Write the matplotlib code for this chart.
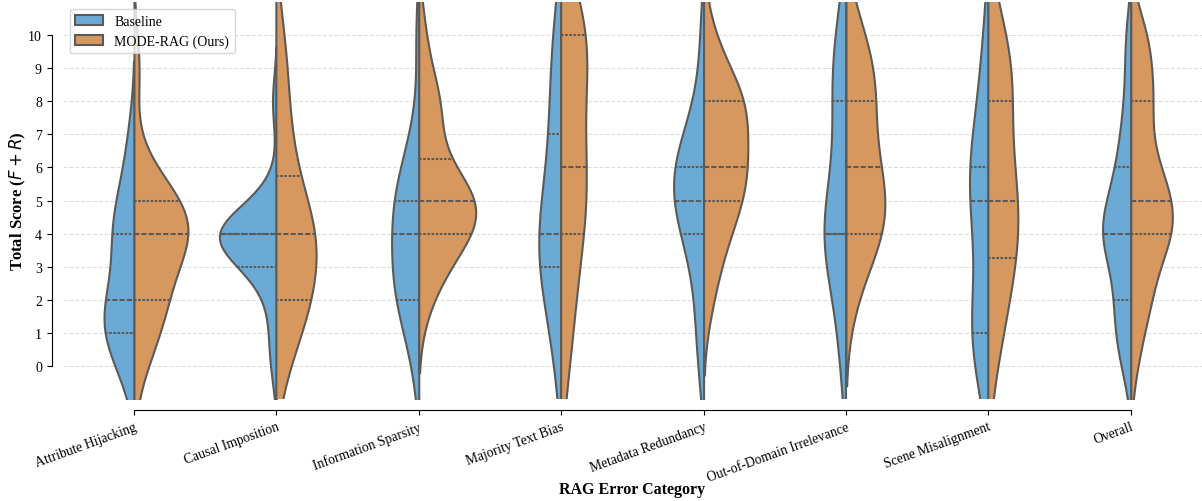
import numpy as np
import pandas as pd
import matplotlib
matplotlib.use("Agg")
import matplotlib.pyplot as plt
import seaborn as sns

plt.rcParams['font.family'] = ['Liberation Serif', 'DejaVu Serif']
plt.rcParams['mathtext.fontset'] = 'dejavusans'

# score values (F + R) and error categories
scores = np.arange(11)
categories = ["Attribute Hijacking", "Causal Imposition", "Information Sparsity",
              "Majority Text Bias", "Metadata Redundancy",
              "Out-of-Domain Irrelevance", "Scene Misalignment"]
models = ["Baseline", "MODE-RAG (Ours)"]

# number of samples with each total score 0..10, one row per category
baseline_counts = [
    [2, 5, 4, 1, 4, 2, 1, 1, 0, 0, 0],
    [1, 1, 1, 4, 12, 2, 0, 0, 1, 0, 0],
    [1, 1, 4, 3, 3, 4, 2, 1, 0, 0, 1],
    [1, 1, 2, 3, 4, 2, 1, 2, 1, 1, 2],
    [1, 1, 1, 1, 3, 4, 5, 2, 1, 0, 1],
    [1, 1, 1, 1, 7, 1, 1, 1, 2, 2, 2],
    [2, 5, 1, 1, 1, 4, 3, 2, 1, 1, 1],
]
ours_counts = [
    [1, 2, 3, 2, 6, 4, 1, 0, 0, 1, 0],
    [1, 2, 4, 2, 6, 1, 2, 1, 1, 1, 1],
    [0, 0, 1, 2, 4, 7, 1, 1, 3, 0, 1],
    [1, 1, 1, 1, 2, 2, 3, 1, 1, 1, 6],
    [0, 0, 1, 1, 2, 3, 4, 2, 5, 1, 1],
    [0, 0, 1, 1, 4, 3, 3, 1, 3, 2, 2],
    [1, 1, 2, 2, 3, 3, 2, 1, 2, 3, 2],
]

colors = ["#6baad5", "#d6985f"]

# build long table, "Overall" is all categories pooled
rows = []
for model, table in zip(models, [baseline_counts, ours_counts]):
    for cat, counts in zip(categories, table):
        for s in np.repeat(scores, counts):
            rows.append((cat, model, s))
            rows.append(("Overall", model, s))
df = pd.DataFrame(rows, columns=["category", "model", "score"])
order = categories + ["Overall"]

fig, ax = plt.subplots(figsize=(12.02, 5.02), dpi=100)
fig.subplots_adjust(left=0.0522, right=1.0, bottom=0.203, top=0.994)

sns.violinplot(data=df, x="category", y="score", hue="model", order=order,
               hue_order=models, split=True, inner="quart", palette=colors,
               saturation=1, linewidth=1.5, linecolor="#5a5a5a", ax=ax)

ax.set_ylim(-1, 11)
ax.set_yticks(range(11))
ax.yaxis.grid(True, linestyle="--", color="#dddddd", linewidth=0.8)
ax.set_axisbelow(True)

handles, labels = ax.get_legend_handles_labels()
ax.legend(handles, labels, loc="upper left", fontsize=10, frameon=True)

sns.despine(ax=ax, offset=8, trim=True)

ax.set_xlabel("RAG Error Category", fontsize=11.5, fontweight="bold",
              labelpad=-2)
ax.set_ylabel("Total Score ($F + R$)", fontsize=12, fontweight="bold",
              labelpad=0)
ax.tick_params(axis="y", labelsize=10)
ax.set_xticks(range(len(order)))
ax.set_xticklabels(order, rotation=20, ha="right", fontsize=9.8,
                   rotation_mode="anchor")

fig.savefig("out.png", dpi=100)
